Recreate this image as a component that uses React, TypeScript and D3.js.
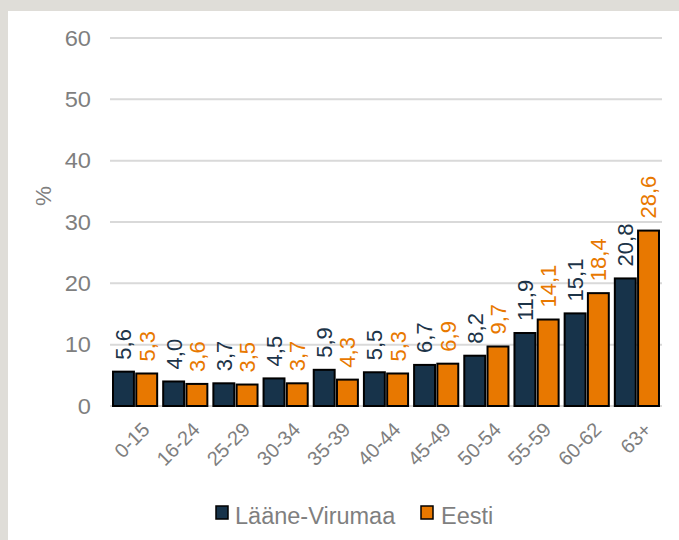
import React from "react";
import * as d3 from "d3";

const categories = ["0-15", "16-24", "25-29", "30-34", "35-39", "40-44", "45-49", "50-54", "55-59", "60-62", "63+"];
const laaneVirumaa = [5.6, 4.0, 3.7, 4.5, 5.9, 5.5, 6.7, 8.2, 11.9, 15.1, 20.8];
const eesti = [5.3, 3.6, 3.5, 3.7, 4.3, 5.3, 6.9, 9.7, 14.1, 18.4, 28.6];
const seriesNames = ["Lääne-Virumaa", "Eesti"];
const yTicks = [0, 10, 20, 30, 40, 50, 60];

const W = 679;
const H = 540;
const COLORS = ["#17334a", "#e87800"];
const LABEL_COLORS = ["#1d3448", "#e87800"];
const FONT = "'Liberation Sans', Arial, sans-serif";

export default function App() {
  const x0 = d3.scaleBand<string>().domain(categories).range([110, 662]).paddingInner(0.12).paddingOuter(0.06);
  const x1 = d3.scaleBand<string>().domain(seriesNames).range([0, x0.bandwidth()]).paddingInner(0.1);
  const y = d3.scaleLinear().domain([0, 60]).range([406, 38]);
  const series = [laaneVirumaa, eesti];
  const fmt = (v: number) => v.toFixed(1).replace(".", ",");

  return (
    <svg width={W} height={H} style={{ position: "absolute", left: 0, top: 0, fontFamily: FONT }}>
      <rect x={0} y={0} width={W} height={H} fill="#dfddd8" />
      <rect x={8} y={11} width={W - 8} height={H - 11} fill="#ffffff" />
      {yTicks.map((t) => (
        <g key={t}>
          <line x1={110} x2={662} y1={y(t)} y2={y(t)} stroke="#d9d9d9" strokeWidth={2} />
          <text
            transform={`translate(91,${y(t)}) scale(1.1,1)`}
            dy="0.35em"
            textAnchor="end"
            fontSize={21.5}
            fill="#7f7f7f"
          >
            {t}
          </text>
        </g>
      ))}
      <text transform={`translate(43,196) rotate(-90)`} textAnchor="middle" dy="0.35em" fontSize={22.5} fill="#7f7f7f">
        %
      </text>
      {categories.map((c, i) => (
        <g key={c}>
          {series.map((s, j) => {
            const bx = (x0(c) as number) + (x1(seriesNames[j]) as number);
            const bw = x1.bandwidth();
            const cx = bx + bw / 2;
            const top = y(s[i]);
            return (
              <g key={j}>
                <rect x={bx} y={top} width={bw} height={y(0) - top} fill={COLORS[j]} stroke="#000" strokeWidth={2} />
                <text
                  transform={`translate(${cx},${top - 12}) rotate(-90)`}
                  textAnchor="start"
                  dy="0.36em"
                  fontSize={22}
                  fill={LABEL_COLORS[j]}
                >
                  {fmt(s[i])}
                </text>
              </g>
            );
          })}
          <text
            transform={`translate(${(x0(c) as number) + x0.bandwidth() / 2 + 6},${421}) rotate(-45)`}
            textAnchor="end"
            dy="0.7em"
            fontSize={20}
            fill="#7f7f7f"
          >
            {c}
          </text>
        </g>
      ))}
      <g>
        <rect x={216} y={506} width={12} height={13} fill={COLORS[0]} stroke="#000" strokeWidth={1.5} />
        <text x={235} y={524} fontSize={23.5} fill="#7f7f7f">
          {seriesNames[0]}
        </text>
        <rect x={421} y={506} width={12} height={13} fill={COLORS[1]} stroke="#000" strokeWidth={1.5} />
        <text x={441} y={524} fontSize={23.5} fill="#7f7f7f">
          {seriesNames[1]}
        </text>
      </g>
    </svg>
  );
}
